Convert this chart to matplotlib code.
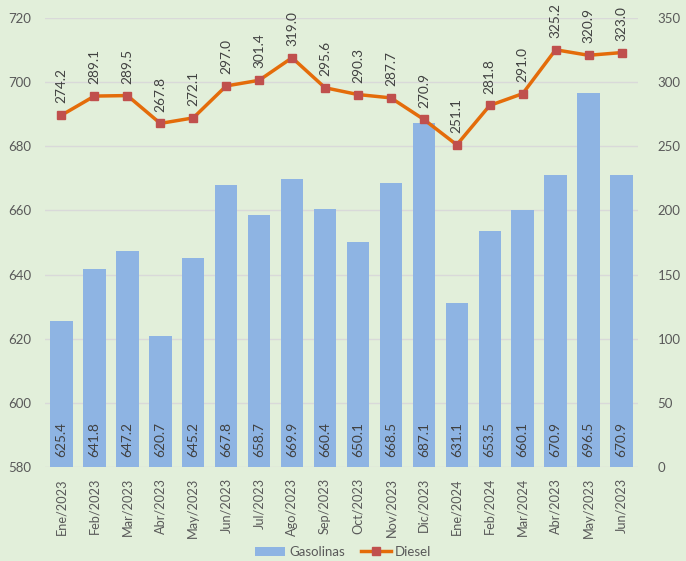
"""Gasolinas (bars) vs Diesel (line) monthly chart"""
import matplotlib
matplotlib.use("Agg")
import matplotlib.pyplot as plt
import numpy as np

meses = ["Ene/2023", "Feb/2023", "Mar/2023", "Abr/2023", "May/2023", "Jun/2023",
         "Jul/2023", "Ago/2023", "Sep/2023", "Oct/2023", "Nov/2023", "Dic/2023",
         "Ene/2024", "Feb/2024", "Mar/2024", "Abr/2023", "May/2023", "Jun/2023"]
gasolinas = [625.4, 641.8, 647.2, 620.7, 645.2, 667.8, 658.7, 669.9, 660.4,
             650.1, 668.5, 687.1, 631.1, 653.5, 660.1, 670.9, 696.5, 670.9]
diesel = [274.2, 289.1, 289.5, 267.8, 272.1, 297.0, 301.4, 319.0, 295.6,
          290.3, 287.7, 270.9, 251.1, 281.8, 291.0, 325.2, 320.9, 323.0]

BG = "#E2EFDA"
TXT = "#595959"
plt.rcParams['font.family'] = ['Lato', 'DejaVu Sans']

fig = plt.figure(figsize=(6.86, 5.61), dpi=100, facecolor=BG)
ax = fig.add_axes([0.0656, 0.1676, 0.8644, 0.8004])
ax.set_facecolor(BG)
ax2 = ax.twinx()

x = np.arange(len(meses))
ax.bar(x, np.array(gasolinas) - 580, bottom=580, width=0.68, color="#8EB4E3",
       label="Gasolinas", zorder=2)
for xi, v in zip(x, gasolinas):
    ax.text(xi, 583.2, f"{v:.1f}", rotation=90, ha="center", va="bottom",
            color="#404040", fontsize=9.8, zorder=3)

ax.set_ylim(580, 720)
ax.set_yticks(range(580, 721, 20))
ax.set_xlim(-0.5, len(meses) - 0.5)
ax.set_xticks(x)
ax.set_xticklabels(meses, rotation=90)
ax.grid(axis="y", color="#D9D9D9", linewidth=1, zorder=0)
ax.set_axisbelow(True)

ax2.plot(x, diesel, color="#E46C0A", linewidth=2.5, marker="s", markersize=6,
         markerfacecolor="#C0504D", markeredgecolor="#C0504D", label="Diesel", zorder=4)
for xi, v in zip(x, diesel):
    ax2.annotate(f"{v:.1f}", (xi, v), xytext=(0, 8.5), textcoords="offset points",
                 rotation=90, ha="center", va="bottom", color="#404040", fontsize=9.8)
ax2.set_ylim(0, 350)
ax2.set_yticks(range(0, 351, 50))

for a in (ax, ax2):
    for s in a.spines.values():
        s.set_visible(False)
    a.tick_params(length=0, colors=TXT, labelsize=9.5)
ax.tick_params(axis="x", labelsize=9.2, pad=8)
ax.tick_params(axis="y", pad=10)
ax2.tick_params(axis="y", pad=14)

h1, l1 = ax.get_legend_handles_labels()
h2, l2 = ax2.get_legend_handles_labels()
fig.legend(h1 + h2, l1 + l2, loc="center", ncol=2, frameon=False,
           bbox_to_anchor=(0.5, 0.016), fontsize=9.5, labelcolor=TXT,
           handlelength=2.3, handletextpad=0.3, columnspacing=1.2)

fig.savefig("out.png", dpi=100, facecolor=BG)
